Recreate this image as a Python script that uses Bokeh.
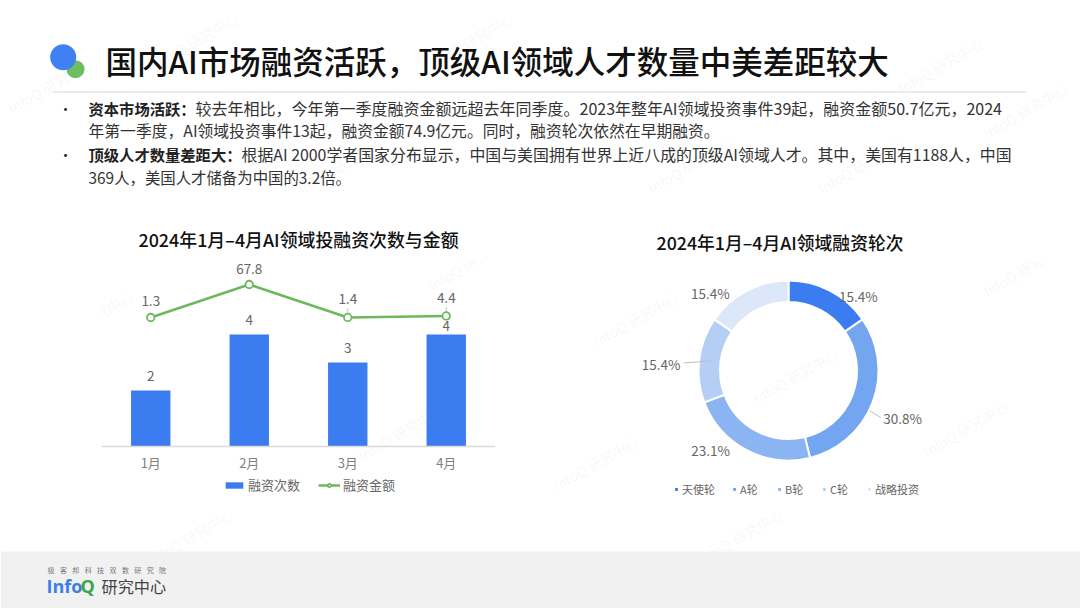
import math
from bokeh.plotting import figure
from bokeh.layouts import column, row
from bokeh.models import (ColumnDataSource, FactorRange, Range1d, Legend, LegendItem, Label)
from bokeh.core.properties import value
from bokeh.embed import file_html
from bokeh.resources import INLINE

FONT = "Noto Sans CJK SC"
FONT_MED = "Noto Sans CJK SC Medium, Noto Sans CJK SC"

# ---- data
months = ["1月", "2月", "3月", "4月"]
deal_counts = [2, 4, 3, 4]
deal_amounts = [1.3, 67.8, 1.4, 4.4]
count_series = "融资次数"
amount_series = "融资金额"
bar_title = "2024年1月–4月AI领域投融资次数与金额"

rounds = ["天使轮", "A轮", "B轮", "C轮", "战略投资"]
round_shares = [15.4, 30.8, 23.1, 15.4, 15.4]
donut_title = "2024年1月–4月AI领域融资轮次"

page_title = "国内AI市场融资活跃，顶级AI领域人才数量中美差距较大"
bullets = [
    ("资本市场活跃：", "较去年相比，今年第一季度融资金额远超去年同季度。2023年整年AI领域投资事件39起，融资金额50.7亿元，2024",
     "年第一季度，AI领域投资事件13起，融资金额74.9亿元。同时，融资轮次依然在早期融资。"),
    ("顶级人才数量差距大：", "根据AI 2000学者国家分布显示，中国与美国拥有世界上近八成的顶级AI领域人才。其中，美国有1188人，中国",
     "369人，美国人才储备为中国的3.2倍。"),
]
watermark = "InfoQ 研究中心"
# page positions of the faint watermark stamps
wm_pos = [(195, 40), (50, 85), (470, 40), (690, 165), (940, 65), (1025, 110), (860, 165), (340, 165),
          (90, 318), (470, 262), (635, 318), (795, 375), (400, 432), (965, 428), (595, 462),
          (1025, 268), (50, 462), (190, 536), (740, 536), (300, 135)]

# ---- style
BLUE = "#3b7df0"
GREEN = "#6cb85c"
GREY_TXT = "#666666"
DONUT_COLORS = ["#3b7df0", "#74a5f0", "#8bb4f3", "#b5cef6", "#dde7fa"]

W = 1080
HEAD_H, MID_H, FOOT_H = 205, 295, 108
HEAD_TOP, MID_TOP, FOOT_TOP = 0, 205, 500
TOP_BAND = 55


def stamp(p, fx, fy, fw, fh, frame_left=0):
    """faint watermark labels falling inside a figure placed at page (fx, fy)"""
    for (x, y) in wm_pos:
        if fx <= x < fx + fw and fy <= y < fy + fh:
            p.add_layout(Label(x=x - fx - frame_left, y=fh - (y - fy), x_units="screen", y_units="screen",
                               text=watermark, angle=30, angle_units="deg",
                               text_font=FONT, text_font_size="14px", text_color="#000000",
                               text_alpha=0.05, text_align="center", text_baseline="middle",
                               level="underlay"))


def blank(w, h, xr, yr):
    p = figure(width=w, height=h, x_range=xr, y_range=yr, output_backend="svg",
               toolbar_location=None, min_border=0)
    p.axis.visible = False
    p.grid.visible = False
    p.outline_line_color = None
    return p


# ---- header
head = blank(W, HEAD_H, Range1d(0, W), Range1d(HEAD_TOP + HEAD_H, HEAD_TOP))
stamp(head, 0, HEAD_TOP, W, HEAD_H)
head.scatter([75], [68.7], size=18, color="#6abf5f", line_color=None)
head.scatter([62.7], [56.7], size=26, color="#3f80f2", line_color=None)
head.segment([52], [91.5], [1026], [91.5], line_color="#d9d9d9", line_width=1)
head.text([105], [59.5], text=[page_title], text_font=value(FONT_MED), text_font_style="normal",
          text_font_size="31.5px", text_color="#111111", text_baseline="middle")

LEAD = 15.3
line_sizes = [16.0, 15.8, 15.9, 15.4]
line_ys = [107.5, 130, 153.5, 176.5]
for i, (lead, rest, second) in enumerate(bullets):
    y0, y1 = line_ys[2 * i], line_ys[2 * i + 1]
    head.text([65], [y0], text=["•"], text_font=value(FONT), text_font_size="14px",
              text_color="#222222", text_align="center", text_baseline="middle")
    head.text([88], [y0], text=[lead], text_font=value(FONT), text_font_style="bold",
              text_font_size=f"{LEAD}px", text_color="#222222", text_baseline="middle")
    head.text([88 + len(lead) * LEAD], [y0], text=[rest], text_font=value(FONT),
              text_font_size=f"{line_sizes[2 * i]}px", text_color="#333333", text_baseline="middle")
    head.text([88], [y1], text=[second], text_font=value(FONT),
              text_font_size=f"{line_sizes[2 * i + 1]}px", text_color="#333333", text_baseline="middle")

# ---- bar + line
bar = figure(width=540, height=MID_H, x_range=FactorRange(factors=months, range_padding=0),
             y_range=Range1d(-1.929, 6.643), output_backend="svg", toolbar_location=None,
             min_border_left=101, min_border_right=45, min_border_top=TOP_BAND, min_border_bottom=0)
bar.extra_y_ranges["amount"] = Range1d(-367.6, 116.2)
bar.outline_line_color = None
bar.grid.visible = False
bar.yaxis.visible = False
bar.xaxis.fixed_location = 0
bar.xaxis.major_tick_line_color = None
bar.xaxis.minor_tick_line_color = None
bar.xaxis.axis_line_color = "#d9d9d9"
bar.xaxis.axis_line_width = 1.5
bar.xaxis.major_label_text_font = FONT
bar.xaxis.major_label_text_font_size = "13px"
bar.xaxis.major_label_text_color = "#7f7f7f"
bar.xaxis.major_label_standoff = 1
bar.title.text = bar_title
bar.title.align = "center"
bar.title.text_font = FONT_MED
bar.title.text_font_size = "17.9px"
bar.title.text_font_style = "normal"
bar.title.text_color = "#111111"
bar.title.standoff = 18
stamp(bar, 0, MID_TOP, 540, MID_H, frame_left=101)

src = ColumnDataSource(dict(m=months, n=deal_counts, a=deal_amounts,
                            n_txt=[str(v) for v in deal_counts], a_txt=[str(v) for v in deal_amounts],
                            n_off=[-14, -14, -14, -8], a_off=[-16, -16, -18.5, -17.5]))
bars = bar.vbar(x="m", top="n", width=0.4, bottom=0, source=src, color=BLUE, line_color=None)
ln = bar.line(x="m", y="a", source=src, y_range_name="amount", line_color=GREEN, line_width=2.5)
# short leaders for the two labels next to the flat part of the line
lead_src = ColumnDataSource(dict(m=months[2:], y0=deal_amounts[2:], y1=[v + 18 for v in deal_amounts[2:]]))
bar.segment(x0="m", y0="y0", x1="m", y1="y1", source=lead_src, y_range_name="amount",
            line_color="#bfbfbf", line_width=1)
pts = bar.scatter(x="m", y="a", source=src, y_range_name="amount", size=7.5, marker="circle",
                  fill_color="#ffffff", line_color=GREEN, line_width=1.8)
bar.text(x="m", y="n", text="n_txt", y_offset="n_off", source=src, text_font=value(FONT),
         text_font_size="13.5px", text_color=GREY_TXT, text_align="center", text_baseline="middle")
bar.text(x="m", y="a", text="a_txt", y_offset="a_off", source=src, y_range_name="amount",
         text_font=value(FONT), text_font_size="13.5px", text_color=GREY_TXT,
         text_align="center", text_baseline="middle")
leg = Legend(items=[LegendItem(label=count_series, renderers=[bars]),
                    LegendItem(label=amount_series, renderers=[ln, pts])],
             orientation="horizontal", location=(122, 6), border_line_color=None,
             background_fill_alpha=0, padding=0, margin=0, spacing=18, label_standoff=3,
             glyph_width=22, glyph_height=8, label_text_font=FONT, label_text_font_size="13px",
             label_text_color=GREY_TXT, label_height=16)
bar.add_layout(leg)

# ---- donut
R_OUT, R_IN = 90, 68.5
don = figure(width=540, height=MID_H, x_range=Range1d(-248, 292), y_range=Range1d(-130, 110),
             output_backend="svg", toolbar_location=None,
             min_border_left=0, min_border_right=0, min_border_top=TOP_BAND, min_border_bottom=0)
don.axis.visible = False
don.grid.visible = False
don.outline_line_color = None
don.title.text = donut_title
don.title.align = "left"
don.title.offset = 116
don.title.text_font = FONT_MED
don.title.text_font_size = "17.8px"
don.title.text_font_style = "normal"
don.title.text_color = "#111111"
don.title.standoff = 12
stamp(don, 540, MID_TOP, 540, MID_H)

total = sum(round_shares)
starts, ends, mids = [], [], []
acc = 0.0
for v in round_shares:
    starts.append(math.pi / 2 - 2 * math.pi * acc / total)
    mids.append(2 * math.pi * (acc + v / 2) / total)
    acc += v
    ends.append(math.pi / 2 - 2 * math.pi * acc / total)
RM = (R_OUT + R_IN) / 2
lab_dx = [33, 40, -41, -48.7, -41.4]
lab_dy = [4, -19, -9, -2.6, 7.7]
dsrc = ColumnDataSource(dict(
    start=starts, end=ends, color=DONUT_COLORS, name=rounds,
    lx=[RM * math.sin(m) + d for m, d in zip(mids, lab_dx)],
    ly=[RM * math.cos(m) + d for m, d in zip(mids, lab_dy)],
    txt=[f"{v}%" for v in round_shares]))
wedges = don.annular_wedge(x=0, y=0, inner_radius=R_IN, outer_radius=R_OUT, start_angle="start",
                           end_angle="end", direction="clock", source=dsrc, fill_color="color",
                           line_color="#ffffff", line_width=2)
# thin leaders for the A-round and C-round labels
lx0 = [RM * math.sin(mids[1]) + 7, RM * math.sin(mids[3]) + 1]
ly0 = [RM * math.cos(mids[1]) - 12, RM * math.cos(mids[3]) + 0]
lx1 = [RM * math.sin(mids[1]) + 18, RM * math.sin(mids[3]) - 26]
ly1 = [RM * math.cos(mids[1]) - 19, RM * math.cos(mids[3]) - 2]
don.segment(lx0, ly0, lx1, ly1, line_color="#bfbfbf", line_width=1)
don.text(x="lx", y="ly", text="txt", source=dsrc, text_font=value(FONT), text_font_size="13.5px",
         text_color=GREY_TXT, text_align="center", text_baseline="middle")
dleg = Legend(items=[LegendItem(label=n, renderers=[wedges], index=i) for i, n in enumerate(rounds)],
              orientation="horizontal", location=(133, 3), border_line_color=None,
              background_fill_alpha=0, padding=0, margin=0, spacing=16, label_standoff=3,
              glyph_width=6, glyph_height=6, label_text_font=FONT, label_text_font_size="11px",
              label_text_color=GREY_TXT, label_height=14)
don.add_layout(dleg)

# ---- footer
foot = blank(W, FOOT_H, Range1d(0, W), Range1d(FOOT_TOP + FOOT_H, FOOT_TOP))
stamp(foot, 0, FOOT_TOP, W, FOOT_H)
foot.quad(left=[0], right=[W], top=[551], bottom=[608], color="#f1f1f1", line_color=None)
slogan = "极客邦科技双数研究院"
for i, ch in enumerate(slogan):
    foot.text([47 + i * 12.4], [569], text=[ch], text_font=value(FONT), text_font_size="7px",
              text_color="#777777", text_baseline="middle")
foot.text([46], [585], text=["Info"], text_font=value("Open Sans"), text_font_style="bold",
          text_font_size="18px", text_color="#3d7ee8", text_baseline="middle")
foot.text([80], [585], text=["Q"], text_font=value("Open Sans"), text_font_style="bold",
          text_font_size="18px", text_color="#3fa34d", text_baseline="middle")
foot.text([101], [585], text=["研究中心"], text_font=value(FONT), text_font_size="16.2px",
          text_color="#444444", text_baseline="middle")

page = column(head, row(bar, don, spacing=0), foot, spacing=0)
open("out.html", "w").write(file_html(page, INLINE))
